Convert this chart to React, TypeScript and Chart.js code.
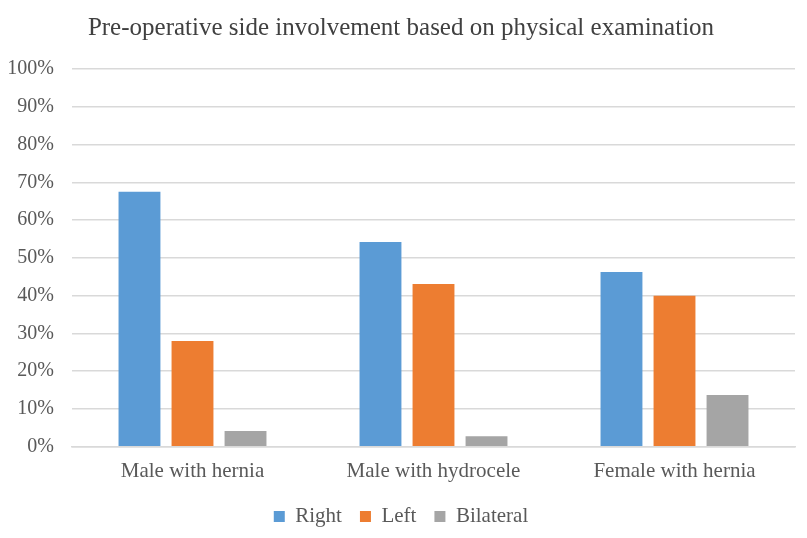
import React, { useEffect, useRef } from 'react';
import Chart from 'chart.js/auto';

const categories = ['Male with hernia', 'Male with hydrocele', 'Female with hernia'];
const rightValues = [67.5, 54.2, 46.3];
const leftValues = [28.0, 43.1, 40.0];
const bilateralValues = [4.2, 2.8, 13.7];

const App = () => {
  const chartRef = useRef<HTMLCanvasElement>(null);

  useEffect(() => {
    document.body.style.margin = '0';
    if (chartRef && chartRef.current) {
      const font = "'Liberation Serif', 'Times New Roman', serif";
      const myChart = new Chart(chartRef.current, {
        type: 'bar',
        data: {
          labels: categories,
          datasets: [
            { label: 'Right', data: rightValues, backgroundColor: '#5B9BD5' },
            { label: 'Left', data: leftValues, backgroundColor: '#ED7D31' },
            { label: 'Bilateral', data: bilateralValues, backgroundColor: '#A5A5A5' },
          ],
        },
        options: {
          animation: false,
          responsive: false,
          maintainAspectRatio: false,
          datasets: {
            bar: { categoryPercentage: 0.66, barPercentage: 0.79 },
          },
          layout: { padding: { left: 7, right: 12, top: 0, bottom: 1 } },
          plugins: {
            title: {
              display: true,
              text: 'Pre-operative side involvement based on physical examination',
              color: '#404040',
              font: { family: font, size: 25, weight: 'normal' },
              padding: { top: 13, bottom: 26 },
            },
            legend: {
              position: 'bottom',
              labels: {
                color: '#595959',
                font: { family: font, size: 21 },
                boxWidth: 11,
                boxHeight: 11,
                padding: 18,
              },
            },
            tooltip: { enabled: false },
          },
          scales: {
            x: {
              grid: { display: false },
              border: { color: '#D9D9D9', width: 1.5 },
              ticks: { color: '#595959', font: { family: font, size: 21 }, padding: 4 },
            },
            y: {
              min: 0,
              max: 100,
              border: { display: false },
              grid: { color: '#D9D9D9', lineWidth: 1.5, drawTicks: false },
              ticks: {
                stepSize: 10,
                color: '#595959',
                font: { family: font, size: 20 },
                padding: 18,
                callback: (v: any) => v + '%',
              },
              afterFit: (axis: any) => {
                axis.width = 65;
              },
            },
          },
        },
      });

      return () => {
        myChart.destroy();
      };
    }
  }, []);

  return (
    <div style={{ width: 807, height: 538, background: '#fff' }}>
      <canvas ref={chartRef} width={807} height={538} />
    </div>
  );
};

export default App;
